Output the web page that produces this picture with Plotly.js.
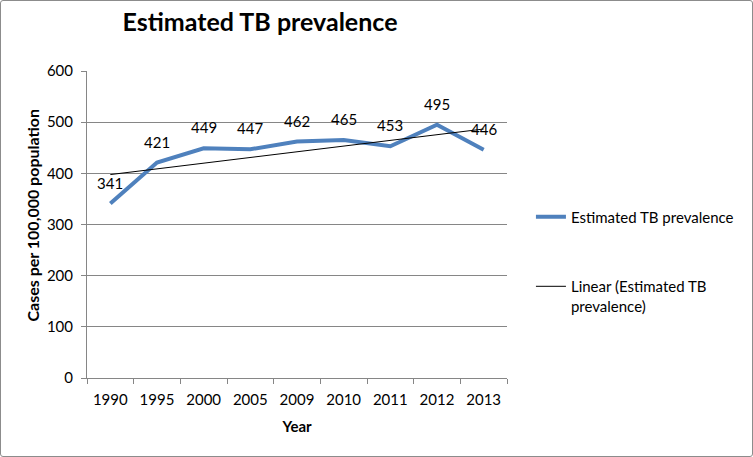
<!DOCTYPE html>
<html><head><meta charset="utf-8">
<script src="https://cdn.plot.ly/plotly-3.0.1.min.js"></script>
<style>
html,body{margin:0;padding:0;background:#fff;}
#wrap{position:relative;width:753px;height:457px;}
#chart{position:absolute;left:0;top:0;width:753px;height:457px;}
#frame{position:absolute;left:0;top:0;width:751px;height:455px;border:1px solid #8c8c8c;border-radius:3px;pointer-events:none;}
</style></head>
<body>
<div id="wrap"><div id="chart"></div><div id="frame"></div></div>
<script>
const years = ['1990','1995','2000','2005','2009','2010','2011','2012','2013'];
const prevalence = [341, 421, 449, 447, 462, 465, 453, 495, 446];
const seriesName = 'Estimated TB prevalence';
const trendName = 'Linear (Estimated TB<br>prevalence)';
const chartTitle = 'Estimated TB prevalence';
const xTitle = 'Year';
const yTitle = 'Cases per 100,000 population';

// least-squares linear trendline over category index (as Excel does)
const n = prevalence.length;
const idx = prevalence.map((_, i) => i + 1);
const mx = idx.reduce((a, b) => a + b, 0) / n;
const my = prevalence.reduce((a, b) => a + b, 0) / n;
let sxy = 0, sxx = 0;
for (let i = 0; i < n; i++) { sxy += (idx[i] - mx) * (prevalence[i] - my); sxx += (idx[i] - mx) ** 2; }
const slope = sxy / sxx, icpt = my - slope * mx;
const trend = idx.map(x => icpt + slope * x);

const font = 'Lato, "Open Sans", sans-serif';

const traces = [
  {
    x: years, y: prevalence, type: 'scatter', mode: 'lines',
    name: seriesName, legendgroup: 'a',
    line: {color: '#4f81bd', width: 4},
    hoverinfo: 'x+y'
  },
  {
    x: years, y: trend, type: 'scatter', mode: 'lines',
    name: trendName, legendgroup: 'b',
    line: {color: '#000', width: 1},
    hoverinfo: 'skip'
  }
];

// data labels: category axis positions are serial indices
const labelAnns = years.map((yr, i) => ({
  x: i, y: prevalence[i], xref: 'x', yref: 'y', text: String(prevalence[i]),
  showarrow: false, yshift: 21, font: {family: font, size: 15, color: '#000'}
}));

const layout = {
  width: 753, height: 457,
  margin: {l: 87.3, r: 246.3, t: 70.7, b: 78.5},
  paper_bgcolor: '#fff', plot_bgcolor: '#fff',
  font: {family: font, size: 15, color: '#000'},
  title: {text: '<b>' + chartTitle + '</b>', font: {family: font, size: 25, color: '#000'},
          x: 0.412, xanchor: 'center', y: 0.952, yanchor: 'middle', xref: 'paper'},
  xaxis: {
    type: 'category', tickson: 'boundaries', ticks: 'outside', ticklen: 5, tickcolor: '#868686',
    showline: true, linecolor: '#868686', linewidth: 1, showgrid: false, zeroline: false,
    tickfont: {family: font, size: 15}, range: [-0.5, 8.5], ticklabelstandoff: 8,
    title: {text: '<b>' + xTitle + '</b>', font: {family: font, size: 15}, standoff: 14}
  },
  yaxis: {
    range: [0, 600], dtick: 100, ticks: 'outside', ticklen: 5, tickcolor: '#868686',
    showline: true, linecolor: '#868686', linewidth: 1,
    showgrid: true, gridcolor: '#868686', gridwidth: 1, zeroline: false,
    tickfont: {family: font, size: 15}, ticklabelstandoff: 5
  },
  annotations: labelAnns.concat([{
    text: '<b>' + yTitle + '</b>', textangle: -90, showarrow: false,
    xref: 'paper', yref: 'paper', x: (33 - 87.3) / 419.4, y: (378.5 - 215) / 307.8,
    xanchor: 'center', yanchor: 'middle', font: {family: font, size: 16, color: '#000'}
  }]),
  showlegend: true,
  legend: {x: 1.057, xanchor: 'left', y: 0.578, yanchor: 'top', valign: 'top',
           font: {family: font, size: 15}, tracegroupgap: 47, bgcolor: 'rgba(0,0,0,0)'}
};

Plotly.newPlot('chart', traces, layout, {displayModeBar: false, staticPlot: true});
</script>
</body></html>
